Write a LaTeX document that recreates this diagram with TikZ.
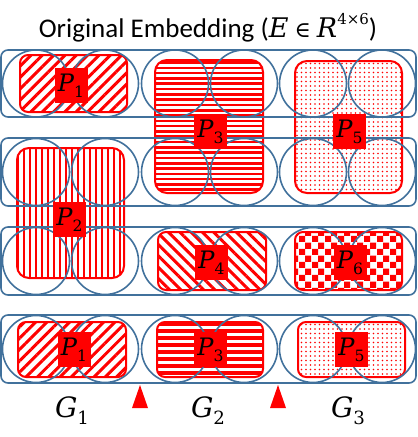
\documentclass[tikz,border=0pt]{standalone}
\usepackage{fontspec}
\setmainfont{Carlito}
\newfontfamily\mathlike{DejaVu Serif}
\usetikzlibrary{patterns.meta}
\definecolor{rowblue}{HTML}{41719C}

% checkerboard tile for P6
\pgfdeclarepattern{
  name=checks,
  type=uncolored,
  bottom left={\pgfpointorigin},
  top right={\pgfpoint{13pt}{13pt}},
  tile size={\pgfpoint{13pt}{13pt}},
  code={
    \pgfpathrectangle{\pgfpointorigin}{\pgfpoint{6.5pt}{6.5pt}}
    \pgfpathrectangle{\pgfpoint{6.5pt}{6.5pt}}{\pgfpoint{6.5pt}{6.5pt}}
    \pgfusepath{fill}
  }
}

\newcommand{\sym}[2]{{\mathlike\itshape #1}\raisebox{-0.25em}{\mathlike\fontsize{0.65em}{1em}\selectfont #2}}

\tikzset{
  rowbox/.style={draw=rowblue, line width=1.6pt, rounded corners=7pt},
  slot/.style={draw=rowblue, line width=1.6pt},
  part/.style={draw=red, line width=2pt, rounded corners=8pt, pattern color=red},
  tag/.style={fill=red, minimum width=33pt, minimum height=35pt, inner sep=0pt,
    font=\fontsize{24}{24}\selectfont},
  grouplabel/.style={anchor=base, font=\fontsize{28}{28}\selectfont}
}

\begin{document}
\begin{tikzpicture}[x=1pt,y=-1pt]
\useasboundingbox (0,0) rectangle (418,437);

% title
\node[font=\fontsize{27}{30}\selectfont, anchor=base] (title) at (208,37)
  {Original Embedding ({\mathlike\itshape E} {\mathlike\fontsize{22}{22}\selectfont ∈} {\mathlike\itshape R}\raisebox{0.45em}{\mathlike\fontsize{15}{15}\selectfont 4×6})};

% partitions of the embedding
\draw[part, pattern={Lines[angle=45,distance=8pt,line width=3pt]}] (20,55) rectangle (127,112);
\begin{scope}
  \clip[rounded corners=12pt] (155,60) rectangle (263,193);
  \foreach \s in {62.5,67.8,...,193}
    \draw[red, line width=2.6pt] (155,\s) -- (263,\s);
\end{scope}
\draw[part, rounded corners=12pt] (155,60) rectangle (263,193);
\draw[part, rounded corners=12pt, pattern={Dots[distance=4.5pt,radius=0.9pt]}] (295,61) rectangle (402,193);
\draw[part, rounded corners=12pt, pattern={Lines[angle=90,distance=6pt,line width=1.5pt]}] (17,148) rectangle (124,278);
\draw[part, pattern={Lines[angle=-45,distance=8pt,line width=3pt]}] (158,232) rectangle (266,290);
\draw[part, pattern=checks] (295,232) rectangle (402,290);

% grouped embedding
\draw[part, pattern={Lines[angle=45,distance=8pt,line width=3pt]}] (18,322) rectangle (126,377);
\begin{scope}
  \clip[rounded corners=8pt] (157,322) rectangle (263,377);
  \foreach \s in {324,331,...,377}
    \draw[red, line width=3.5pt] (157,\s) -- (263,\s);
\end{scope}
\draw[part] (157,322) rectangle (263,377);
\draw[part, pattern={Dots[distance=4.5pt,radius=0.9pt]}] (298,322) rectangle (405,377);

% rows and their entries
\foreach \y/\top/\bot in {83.5/50/117, 172/138/206, 261/227/295, 349/315/383} {
  \draw[rowbox] (1,\top) rectangle (416,\bot);
  \foreach \x in {36,105,175,244,313,382}
    \draw[slot] (\x,\y) circle (33.5);
}

% partition tags
\node[tag] (p1) at (71,85.5) {\sym{P}{1}};
\node[tag] (p3) at (210.5,131.5) {\sym{P}{3}};
\node[tag] (p5) at (349.5,131.5) {\sym{P}{5}};
\node[tag] (p2) at (69.5,219.5) {\sym{P}{2}};
\node[tag] (p4) at (211.5,262.5) {\sym{P}{4}};
\node[tag] (p6) at (350,262.5) {\sym{P}{6}};
\node[tag] (q1) at (74,349.5) {\sym{P}{1}};
\node[tag] (q3) at (210.5,349.5) {\sym{P}{3}};
\node[tag] (q5) at (351.5,349.5) {\sym{P}{5}};

% group boundaries
\fill[red] (132,408) -- (140,385) -- (148,408) -- cycle;
\fill[red] (270,408) -- (278,385) -- (286,408) -- cycle;

% group labels
\node[grouplabel] (g1) at (72,417) {\sym{G}{1}};
\node[grouplabel] (g2) at (208,417) {\sym{G}{2}};
\node[grouplabel] (g3) at (348,417) {\sym{G}{3}};
\end{tikzpicture}
\end{document}
